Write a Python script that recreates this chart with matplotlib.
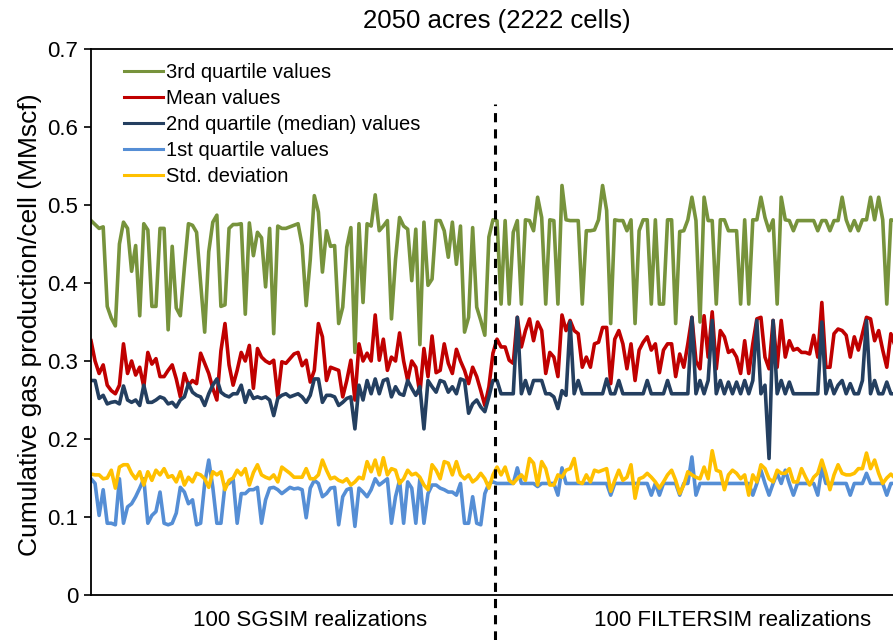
import numpy as np
import matplotlib
matplotlib.use("Agg")
import matplotlib.pyplot as plt  # noqa: E402

plt.rcParams["font.family"] = ["Liberation Sans", "DejaVu Sans"]

# values per realization (MMscf per cell)
q3_sgsim = [
    0.480, 0.475, 0.470, 0.472, 0.370, 0.355, 0.345, 0.450, 0.478, 0.470,
    0.415, 0.448, 0.358, 0.476, 0.468, 0.370, 0.370, 0.470, 0.470, 0.340,
    0.447, 0.368, 0.358, 0.420, 0.476, 0.474, 0.465, 0.400, 0.337, 0.440,
    0.478, 0.487, 0.370, 0.372, 0.470, 0.475, 0.475, 0.476, 0.360, 0.477,
    0.435, 0.465, 0.458, 0.395, 0.470, 0.335, 0.473, 0.470, 0.470, 0.472,
    0.474,
    0.476, 0.448, 0.371, 0.430, 0.512, 0.491, 0.414, 0.467, 0.447, 0.448,
    0.348, 0.369, 0.446, 0.471, 0.311, 0.476, 0.375, 0.476, 0.473, 0.513,
    0.467, 0.473, 0.480, 0.354, 0.430, 0.484, 0.473, 0.469, 0.403, 0.469,
    0.321, 0.478, 0.397, 0.405, 0.480, 0.480, 0.467, 0.433, 0.478, 0.424,
    0.473, 0.337, 0.356, 0.471, 0.369, 0.352, 0.333, 0.459, 0.481,
]
q3_filtersim = [
    0.480, 0.373, 0.480, 0.373, 0.465, 0.480, 0.373, 0.481, 0.480, 0.467,
    0.510, 0.484, 0.373, 0.481, 0.480, 0.373, 0.525, 0.481, 0.480, 0.480,
    0.480, 0.373, 0.467, 0.467, 0.468, 0.481, 0.525, 0.493, 0.348, 0.481,
    0.480, 0.480, 0.467, 0.481, 0.348, 0.467, 0.481, 0.481, 0.373, 0.481,
    0.373, 0.373, 0.481, 0.481, 0.348, 0.466, 0.467, 0.481,
    0.510, 0.480, 0.350, 0.510, 0.480, 0.480, 0.373, 0.481, 0.481, 0.467,
    0.467, 0.467, 0.373, 0.481, 0.373, 0.481, 0.481, 0.510, 0.484, 0.467,
    0.481, 0.373, 0.510, 0.481, 0.480, 0.467, 0.480, 0.480, 0.480, 0.480,
    0.480, 0.467, 0.480, 0.480, 0.467, 0.480, 0.480, 0.510, 0.481, 0.467,
    0.480, 0.467, 0.481, 0.481, 0.510, 0.481, 0.510, 0.481, 0.373, 0.481,
    0.480, 0.481,
]
mean_sgsim = [
    0.326, 0.300, 0.284, 0.295, 0.269, 0.262, 0.258, 0.269, 0.322, 0.284,
    0.300, 0.282, 0.292, 0.267, 0.311, 0.296, 0.303, 0.280, 0.280, 0.288,
    0.295, 0.277, 0.254, 0.284, 0.269, 0.275, 0.271, 0.310, 0.297, 0.284,
    0.265, 0.250, 0.313, 0.348, 0.295, 0.269, 0.288, 0.311, 0.300, 0.320,
    0.265, 0.316, 0.305, 0.300, 0.297, 0.301, 0.254, 0.299, 0.297, 0.303,
    0.309,
    0.311, 0.294, 0.301, 0.273, 0.288, 0.348, 0.331, 0.275, 0.292, 0.290,
    0.288, 0.254, 0.275, 0.301, 0.250, 0.322, 0.300, 0.310, 0.300, 0.359,
    0.301, 0.328, 0.288, 0.305, 0.300, 0.336, 0.300, 0.275, 0.300, 0.292,
    0.258, 0.316, 0.280, 0.332, 0.285, 0.288, 0.322, 0.297, 0.284, 0.315,
    0.300, 0.288, 0.271, 0.292, 0.280, 0.262, 0.243, 0.267, 0.310,
]
mean_filtersim = [
    0.328, 0.318, 0.318, 0.301, 0.297, 0.356, 0.318, 0.339, 0.354, 0.326,
    0.350, 0.339, 0.284, 0.311, 0.305, 0.280, 0.359, 0.339, 0.352, 0.339,
    0.335, 0.292, 0.305, 0.292, 0.322, 0.324, 0.343, 0.343, 0.271, 0.328,
    0.339, 0.322, 0.290, 0.322, 0.275, 0.314, 0.324, 0.331, 0.314, 0.322,
    0.285, 0.314, 0.322, 0.322, 0.280, 0.309, 0.292, 0.322, 0.356, 0.300,
    0.290, 0.358, 0.305, 0.363, 0.290, 0.339, 0.331, 0.311, 0.314, 0.305,
    0.284, 0.326, 0.284, 0.322, 0.354, 0.356, 0.305, 0.290, 0.352, 0.292,
    0.352, 0.305, 0.326, 0.314, 0.316, 0.311, 0.311, 0.309, 0.333, 0.305,
    0.375, 0.292, 0.292, 0.335, 0.341, 0.339, 0.333, 0.305, 0.331, 0.314,
    0.335, 0.356, 0.354, 0.326, 0.339, 0.314, 0.292, 0.335, 0.320, 0.310,
]
median_sgsim = [
    0.275, 0.275, 0.252, 0.256, 0.245, 0.247, 0.248, 0.245, 0.268, 0.250,
    0.247, 0.250, 0.243, 0.269, 0.247, 0.247, 0.250, 0.254, 0.252, 0.245,
    0.247, 0.241, 0.250, 0.254, 0.271, 0.260, 0.256, 0.254, 0.243, 0.258,
    0.269, 0.277, 0.260, 0.256, 0.254, 0.258, 0.258, 0.269, 0.247, 0.262,
    0.252, 0.254, 0.252, 0.254, 0.250, 0.230, 0.252, 0.256, 0.258, 0.254,
    0.256,
    0.258, 0.254, 0.247, 0.256, 0.277, 0.277, 0.247, 0.256, 0.256, 0.254,
    0.243, 0.247, 0.252, 0.254, 0.213, 0.269, 0.250, 0.275, 0.258, 0.277,
    0.258, 0.275, 0.277, 0.254, 0.267, 0.258, 0.256, 0.275, 0.265, 0.256,
    0.267, 0.213, 0.275, 0.267, 0.260, 0.275, 0.273, 0.260, 0.267, 0.258,
    0.277, 0.275, 0.233, 0.245, 0.250, 0.241, 0.235, 0.254, 0.275,
]
median_filtersim = [
    0.275, 0.258, 0.258, 0.258, 0.258, 0.356, 0.258, 0.275, 0.258, 0.275,
    0.275, 0.275, 0.258, 0.258, 0.254, 0.239, 0.262, 0.256, 0.350, 0.258,
    0.275, 0.258, 0.258, 0.258, 0.258, 0.258, 0.258, 0.277, 0.258, 0.258,
    0.275, 0.258, 0.258, 0.258, 0.258, 0.258, 0.258, 0.275, 0.258, 0.258,
    0.258, 0.258, 0.275, 0.258, 0.258, 0.258, 0.258, 0.258, 0.356, 0.258,
    0.275, 0.258, 0.275, 0.352, 0.258, 0.275, 0.258, 0.273, 0.258, 0.273,
    0.258, 0.275, 0.258, 0.275, 0.352, 0.258, 0.269, 0.175, 0.352, 0.258,
    0.275, 0.258, 0.273, 0.258, 0.258, 0.258, 0.258, 0.258, 0.258, 0.258,
    0.350, 0.258, 0.275, 0.258, 0.269, 0.275, 0.258, 0.271, 0.258, 0.258,
    0.275, 0.352, 0.258, 0.275, 0.258, 0.258, 0.273, 0.258, 0.258, 0.258,
]
q1_sgsim = [
    0.149, 0.143, 0.102, 0.135, 0.092, 0.092, 0.090, 0.149, 0.092, 0.113,
    0.117, 0.126, 0.137, 0.149, 0.092, 0.102, 0.107, 0.132, 0.092, 0.090,
    0.092, 0.105, 0.138, 0.132, 0.117, 0.122, 0.090, 0.092, 0.143, 0.173,
    0.138, 0.092, 0.092, 0.141, 0.143, 0.149, 0.092, 0.130, 0.130, 0.135,
    0.135, 0.138, 0.092, 0.122, 0.137, 0.138, 0.135, 0.130, 0.134, 0.138,
    0.136,
    0.137, 0.135, 0.099, 0.137, 0.147, 0.143, 0.126, 0.130, 0.137, 0.138,
    0.090, 0.126, 0.135, 0.137, 0.088, 0.137, 0.132, 0.126, 0.135, 0.149,
    0.141, 0.145, 0.149, 0.092, 0.126, 0.147, 0.092, 0.145, 0.137, 0.092,
    0.149, 0.092, 0.130, 0.141, 0.141, 0.137, 0.135, 0.132, 0.132, 0.128,
    0.143, 0.092, 0.092, 0.126, 0.092, 0.090, 0.130, 0.143, 0.145,
]
q1_filtersim = [
    0.143, 0.143, 0.143, 0.143, 0.143, 0.163, 0.143, 0.143, 0.143, 0.143,
    0.139, 0.143, 0.143, 0.143, 0.143, 0.128, 0.163, 0.143, 0.143, 0.143,
    0.143, 0.143, 0.143, 0.143, 0.143, 0.143, 0.143, 0.143, 0.128, 0.143,
    0.143, 0.143, 0.143, 0.143, 0.143, 0.143, 0.143, 0.143, 0.128, 0.143,
    0.128, 0.143, 0.143, 0.143, 0.143, 0.128, 0.143, 0.143, 0.177, 0.128,
    0.143, 0.143, 0.143, 0.143, 0.143, 0.143, 0.143, 0.143, 0.143, 0.143,
    0.143, 0.143, 0.143, 0.128, 0.143, 0.160, 0.143, 0.128, 0.143, 0.156,
    0.143, 0.160, 0.143, 0.128, 0.143, 0.143, 0.143, 0.143, 0.143, 0.128,
    0.163, 0.143, 0.143, 0.143, 0.143, 0.143, 0.143, 0.128, 0.143, 0.143,
    0.143, 0.156, 0.143, 0.143, 0.143, 0.143, 0.128, 0.143, 0.143, 0.143,
]
std_sgsim = [
    0.155, 0.154, 0.154, 0.149, 0.150, 0.160, 0.137, 0.164, 0.167, 0.167,
    0.156, 0.149, 0.158, 0.141, 0.158, 0.147, 0.160, 0.154, 0.162, 0.151,
    0.153, 0.145, 0.158, 0.141, 0.151, 0.145, 0.156, 0.154, 0.149, 0.138,
    0.158, 0.154, 0.158, 0.135, 0.147, 0.150, 0.160, 0.154, 0.162, 0.141,
    0.157, 0.167, 0.154, 0.151, 0.149, 0.154, 0.145, 0.164, 0.160, 0.156,
    0.151,
    0.151, 0.151, 0.162, 0.149, 0.149, 0.154, 0.173, 0.160, 0.149, 0.151,
    0.147, 0.145, 0.149, 0.141, 0.145, 0.151, 0.149, 0.171, 0.158, 0.173,
    0.154, 0.176, 0.154, 0.162, 0.160, 0.143, 0.149, 0.160, 0.154, 0.156,
    0.151, 0.141, 0.135, 0.167, 0.160, 0.149, 0.171, 0.169, 0.154, 0.171,
    0.154, 0.149, 0.154, 0.145, 0.149, 0.156, 0.149, 0.137, 0.154,
]
std_filtersim = [
    0.164, 0.154, 0.164, 0.147, 0.143, 0.149, 0.154, 0.147, 0.175, 0.169,
    0.141, 0.171, 0.162, 0.141, 0.141, 0.154, 0.151, 0.160, 0.162, 0.175,
    0.145, 0.143, 0.154, 0.145, 0.160, 0.158, 0.160, 0.162, 0.133, 0.147,
    0.160, 0.147, 0.151, 0.167, 0.124, 0.149, 0.151, 0.156, 0.151, 0.145,
    0.137, 0.145, 0.154, 0.160, 0.147, 0.130, 0.141, 0.158,
    0.154, 0.151, 0.149, 0.164, 0.149,
    0.185, 0.160, 0.158, 0.135, 0.154, 0.160, 0.156,
    0.149, 0.154, 0.128, 0.154, 0.145, 0.167, 0.162, 0.149, 0.145, 0.160,
    0.156, 0.156, 0.162, 0.145, 0.145, 0.162, 0.151, 0.141, 0.151, 0.156,
    0.173, 0.156, 0.135, 0.154, 0.167, 0.156, 0.154, 0.154, 0.156, 0.162,
    0.162, 0.182, 0.162, 0.173, 0.156, 0.143, 0.150, 0.155, 0.150, 0.152,
]

series_labels = ["3rd quartile values", "Mean values", "2nd quartile (median) values",
                 "1st quartile values", "Std. deviation"]
series_colors = ["#77933C", "#C00000", "#243F60", "#558ED5", "#FFC000"]
yticks = [0, 0.1, 0.2, 0.3, 0.4, 0.5, 0.6, 0.7]
ytick_labels = ["0", "0.1", "0.2", "0.3", "0.4", "0.5", "0.6", "0.7"]
group_labels = ["100 SGSIM realizations", "100 FILTERSIM realizations"]


def realization_x(sg, fs):
    return np.concatenate([np.linspace(1, 100, len(sg)), np.linspace(101, 200, len(fs))])


fig = plt.figure(figsize=(8.93, 6.4), dpi=100)
ax = fig.add_axes([91 / 893, 45 / 640, 810 / 893, 546 / 640])

pairs = [(q3_sgsim, q3_filtersim), (mean_sgsim, mean_filtersim),
         (median_sgsim, median_filtersim), (q1_sgsim, q1_filtersim),
         (std_sgsim, std_filtersim)]
for (sg, fs), lab, c in zip(pairs, series_labels, series_colors):
    ax.plot(realization_x(sg, fs), np.concatenate([sg, fs]), color=c, lw=2.6, label=lab)

# split between the two simulation methods
ax.plot([100.5, 100.5], [-0.058, 0.63], color="black", lw=2.2, dashes=(3, 2.3), clip_on=False)

ax.set_xlim(1, 200.5)
ax.set_ylim(0, 0.7)
ax.set_xticks([])
ax.set_yticks(yticks)
ax.set_yticklabels(ytick_labels, fontsize=16)
ax.tick_params(axis="y", direction="out", length=5, width=1.2, pad=4)
for s in ["left", "bottom", "top"]:
    ax.spines[s].set_linewidth(1.3)
ax.spines["right"].set_visible(False)

ax.text(55, -0.033, group_labels[0], ha="center", va="center", fontsize=16, clip_on=False)
ax.text(159, -0.033, group_labels[1], ha="center", va="center", fontsize=16, clip_on=False)

leg = ax.legend(loc="upper left", bbox_to_anchor=(0.0407, 0.975), frameon=False, fontsize=14.5,
                handlelength=1.95, handletextpad=0.15, labelspacing=0.35, borderpad=0,
                borderaxespad=0)
for ln in leg.get_lines():
    ln.set_linewidth(2.2)

fig.text(497 / 893, 1 - 21 / 640, "2050 acres (2222 cells)", ha="center", va="center", fontsize=18.5)
fig.text(30 / 893, 1 - 325 / 640, "Cumulative gas production/cell (MMscf)", rotation=90,
         ha="center", va="center", fontsize=19)

fig.savefig("out.png", dpi=100)
